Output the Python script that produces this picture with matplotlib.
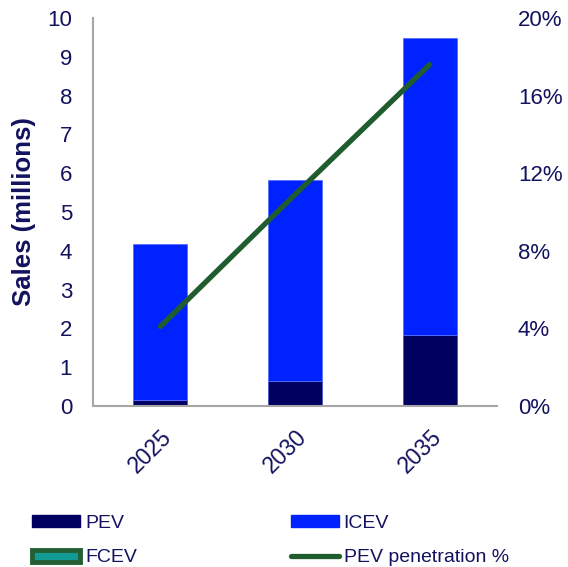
import matplotlib
matplotlib.use("Agg")
import matplotlib.pyplot as plt
import matplotlib.transforms as mtransforms
from matplotlib.patches import Patch
from matplotlib.lines import Line2D
from matplotlib.ticker import FuncFormatter

years = ["2025", "2030", "2035"]
pev = [0.15, 0.65, 1.83]
icev = [4.03, 5.17, 7.65]
penetration = [4.1, 10.9, 17.6]

TXT = "#12125f"
PEV_C = "#000060"
ICEV_C = "#0022ff"
LINE_C = "#1f5c2e"

plt.rcParams['font.family'] = ['Liberation Sans', 'DejaVu Sans']

fig = plt.figure(figsize=(5.68, 5.67), dpi=100)
ax = fig.add_axes([93/568, 1-406/567, 404/568, 388/567])
x = [i + 0.5 for i in range(len(years))]
ax.bar(x, pev, width=0.4, color=PEV_C, edgecolor="#4a55c8", linewidth=0.6, zorder=2)
ax.bar(x, icev, width=0.4, bottom=pev, color=ICEV_C, edgecolor="#5a70ff", linewidth=0.6, zorder=2)
ax.set_xlim(0, 3)
ax.set_ylim(0, 10)
ax.set_yticks(range(0, 11))
ax.set_xticks(x)
ax.set_xticklabels(years, rotation=45, ha="right", rotation_mode="anchor")
offset = mtransforms.ScaledTranslation(-4/100, 0, fig.dpi_scale_trans)
for lbl in ax.get_xticklabels():
    lbl.set_transform(lbl.get_transform() + offset)
for s in ["top", "right"]:
    ax.spines[s].set_visible(False)
for s in ["left", "bottom"]:
    ax.spines[s].set_color("#a6a6a6")
    ax.spines[s].set_linewidth(1.5)
ax.tick_params(axis="both", length=0, labelsize=16, labelcolor=TXT)
ax.tick_params(axis="x", labelsize=16.5)
ax.tick_params(axis="y", pad=15)
ax.tick_params(axis="x", pad=14)
ax.set_ylabel("Sales (millions)", fontsize=18.5, fontweight="bold", color=TXT, labelpad=8)

ax2 = ax.twinx()
ax2.plot(x, penetration, color=LINE_C, linewidth=3.8, solid_capstyle="round", zorder=3)
ax2.set_ylim(0, 20)
ax2.set_yticks(range(0, 21, 4))
ax2.yaxis.set_major_formatter(FuncFormatter(lambda v, p: f"{int(v)}%"))
for s in ax2.spines.values():
    s.set_visible(False)
ax2.tick_params(axis="y", length=0, labelsize=16, labelcolor=TXT, pad=15)

handles = [
    Patch(facecolor=PEV_C, edgecolor=PEV_C),
    Patch(facecolor="#149a94", edgecolor="#235f32", linewidth=3.5),
    Patch(facecolor=ICEV_C, edgecolor=ICEV_C),
    Line2D([0], [0], color=LINE_C, linewidth=3.8, solid_capstyle="round"),
]
labels = ["PEV", "FCEV", "ICEV", "PEV penetration %"]
leg = fig.legend(handles, labels, ncol=2, loc="upper left", bbox_to_anchor=(32/568, 1-515/567),
                 frameon=False, fontsize=14, handlelength=2.47, handleheight=0.57,
                 handletextpad=0.26, columnspacing=7.9, labelspacing=0.9,
                 borderpad=0, borderaxespad=0)
for t in leg.get_texts():
    t.set_color(TXT)

fig.savefig("out.png", dpi=100)
